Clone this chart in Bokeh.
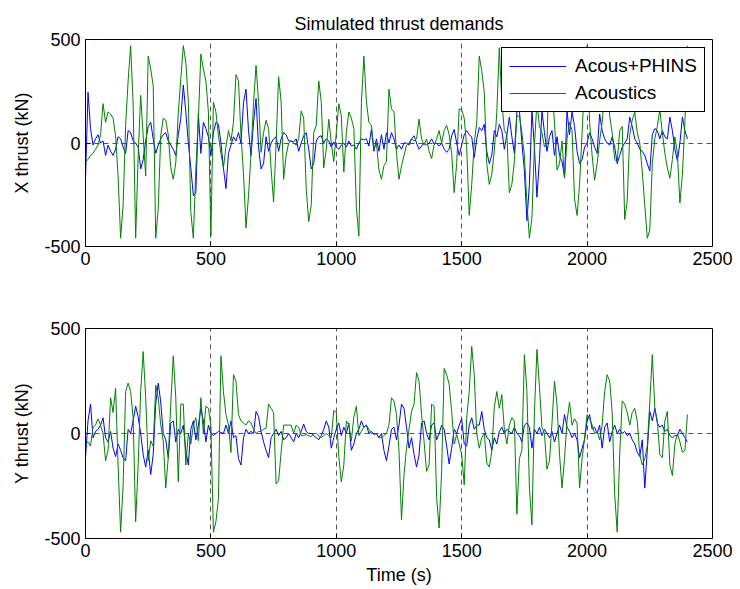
from bokeh.plotting import figure
from bokeh.models import Range1d, LinearAxis, FixedTicker, Legend, LegendItem, Grid
from bokeh.layouts import column
from bokeh.embed import file_html
from bokeh.resources import INLINE

FONT = "Liberation Sans"
STEP = 10  # sampling interval (s)

x_ticks = [0, 500, 1000, 1500, 2000, 2500]
y_ticks = [-500, 0, 500]
series_names = ["Acous+PHINS", "Acoustics"]

# X thrust, Acous+PHINS (kN), every 10 s
x_phins = [
    -175, 245, 70, -10, 20, 40, 0, 10, -60, -10,
    -40, -60, -30, 30, 20, -20, -50, 60, 50, 10,
    0, -20, -125, -80, 10, 80, 100, 20, -50, -10,
    20, 40, 50, 10, -10, -30, -60, 40, 120, 280,
    150, 0, -120, -255, -240, 140, -50, 100, 70, 30,
    -60, 50, 100, 90, 0, -120, -220, -50, -10, 30,
    10, 50, 0, 195, 260, 60, -60, 100, 215, -20,
    -125, -100, 30, -40, 0, 20, 30, -40, 20, 50,
    40, 10, 10, 5, 20, -40, 0, 35, 50, -30,
    -125, -100, 10, 30, 35, 0, 20, 10, -20, 5,
    -20, -30, -10, 0, -20, 10, -15, -10, -30, 0,
    20, 15, 20, -15, 65, -40, 20, -40, 40, -30,
    50, 0, 50, 20, -30, -10, -30, 0, 0, -10,
    20, 35, 0, -30, -15, 0, -10, 0, 20, -5,
    0, -15, 0, -30, -45, -30, 35, 65, 0, -60,
    -10, 40, 60, 40, 30, -70, 20, 75, 60, 90,
    -40, -100, -60, 60, 30, 90, 60, -30, 40, 125,
    30, -50, 150, 160, 0, -135, -375, -200, 155, -20,
    -262, -80, 155, 50, -40, 30, 60, -60, 30, -60,
    -90, -165, 155, 40, 150, 80, -40, -100, -80, -20,
    0, 50, 20, -20, -50, 140, 60, 20, 0, -10,
    30, -20, -100, -60, -20, 0, 20, 125, 80, 20,
    0, -30, -40, -60, -100, -135, 40, 70, 60, 20,
    60, 30, 20, 125, 60, -30, -85, 0, 125, 60,
    20,
]

# X thrust, Acoustics (kN)
x_acoustic = [
    -90, -80, -60, -50, -30, -10, 40, 190, 100, 150,
    140, 120, 35, -160, -460, -300, 85, 300, 470, 190,
    -460, -60, 230, 35, -160, 420, 358, 277, -460, -318,
    35, 120, 110, 40, -120, -175, -95, 145, 310, 470,
    390, 200, -335, -460, -125, 115, 430, 358, 300, 150,
    -450, 197, 150, 35, -50, -120, -20, 60, 10, 100,
    330, 300, 35, -150, -410, -255, -50, 195, 375, 200,
    -45, 50, 110, 70, -125, -285, 0, 320, 200, -175,
    -60, 0, 10, 0, -10, 20, 155, 120, -220, -380,
    -300, 50, 85, 300, 200, -120, -30, 115, 0, -90,
    50, 190, 130, -140, 50, 150, 120, 70, -310, -450,
    190, 420, 200, 100, 85, -30, 0, -130, -175, -110,
    -90, 260, 165, 150, -50, -175, -110, -60, -10, 0,
    20, 10, 20, 115, 20, -10, 20, -40, -75, -10,
    20, 60, 0, 60, 85, 40, -50, -240, -100, 165,
    160, 120, -20, -350, -200, 0, 100, 420, 350, 245,
    -100, -200, -150, -40, 150, 460, 200, 60, 40, -240,
    -200, -90, 130, 130, 50, -60, -290, -460, -360, -10,
    200, 80, 50, -20, 0, 460, 250, 100, -130, -100,
    10, -170, 20, 100, 60, -270, -350, -200, 50, 300,
    470, 100, -60, -180, -100, 10, 100, 250, 380, 130,
    50, -80, -90, 60, 80, -370, -280, 40, 110, 150,
    50, 0, -140, -300, -460, -420, -100, 20, 80, 160,
    50, -50, -120, -170, -80, 30, -50, -290, -150, 100,
    470,
]

# Y thrust, Acous+PHINS (kN)
y_phins = [
    -115, 60, 140, -20, 10, 20, 40, 75, -20, -40,
    10, -70, -110, -50, -80, -115, -130, 20, 0, 60,
    130, 80, 0, -100, -160, -80, -195, -100, 140, 240,
    150, 0, -30, -115, 50, 60, -40, 20, 0, 40,
    -80, -150, 20, 60, -30, 40, 120, 60, -40, 40,
    0, -10, 0, 10, 5, 0, 40, 0, 60, -20,
    -10, -120, -150, -20, 20, 0, 10, 0, 105, 80,
    10, -40, -80, -115, -20, 0, 20, -10, 10, -30,
    -20, 0, -20, -40, 0, -20, 10, 45, 10, 0,
    0, -10, -20, -30, -10, 20, 60, 30, -70, -20,
    20, 50, -10, 30, 0, 50, -80, -50, 0, 20,
    60, 30, 40, 0, 10, -5, 0, -20, 0, -80,
    -130, -60, 20, 30, -30, 40, 140, 120, 30, -70,
    -20, -100, -160, -100, 50, 60, 0, -30, 40, 50,
    -30, 0, 40, 20, -60, -145, -70, 20, 0, 40,
    70, -50, -60, 40, 75, 20, 40, 40, 105, 20,
    -20, -30, -80, -20, -50, 10, 30, 0, 20, 10,
    0, 30, 0, -10, -40, 40, 50, 30, -70, 20,
    0, 30, -10, 20, 0, -20, 10, -40, 0, 40,
    0, 90, 30, 10, -20, 0, -30, -115, -70, -30,
    60, 90, 20, 30, 0, 40, -70, 30, 50, -40,
    10, 40, 0, 20, 0, 10, -10, 0, -30, -50,
    -90, -110, -30, -260, -80, 105, 60, 120, 50, 30,
    40, 10, 20, -10, -20, -10, -10, 20, 0, -20,
    -40,
]

# Y thrust, Acoustics (kN)
y_acoustic = [
    -50, -40, -60, 30, 40, 70, 40, 0, -130, -80,
    170, 100, 215, -150, -470, -250, 200, 240, 200, 75,
    -420, -150, 200, 390, 170, -130, -35, -60, 230, 170,
    40, -35, -260, -115, 140, 370, 170, -230, 140, 140,
    -150, 0, -50, 40, 75, -35, 170, 0, 130, 120,
    40, -470, -420, -310, 370, 200, 90, 40, -90, 280,
    250, 90, 60, 50, 40, 60, 50, 20, 0, 10,
    10, 20, 25, 140, 120, 100, -240, -225, -90, 40,
    40, 40, 40, 0, 40, 30, -10, -10, -5, -10,
    -15, 0, 0, -10, -20, -10, 0, -10, -20, 110,
    100, -110, -230, -150, 60, 40, -35, 80, 130, -10,
    10, 30, 40, 20, 0, 0, 0, -20, -20, -10,
    0, 40, 170, 155, 90, -85, -410, -195, -70, 20,
    105, 140, 290, 250, 90, -40, -180, -150, 140, 130,
    -305, -450, -180, 310, 280, 235, 105, -50, -5, -50,
    -100, -245, 75, 200, 415, 280, 0, -70, -20, 0,
    -140, -160, -85, 125, 200, 120, 185, 20, -50, 40,
    75, 60, -385, -120, -80, 375, 200, -260, -435, 100,
    400, 220, 30, 0, -170, -130, 50, 250, 140, -100,
    -260, -120, 60, 150, 40, 70, 50, -260, -120, -20,
    90, 70, 40, 0, 10, -30, 40, 200, 280, 250,
    100, -290, -470, -100, 155, 140, 100, 40, 100, 120,
    60, -100, -150, -120, -60, 150, 375, 120, 60, -100,
    -115, 60, 105, -150, -200, -50, 0, -40, -90, -80,
    90,
]

BLUE = "#0000ff"
GREEN = "#008000"
TXT = "18px"


def times(vals):
    return [i * STEP for i in range(len(vals))]


def style_axis(ax, label_text=None):
    ax.axis_line_color = "black"
    ax.axis_line_width = 1
    ax.major_tick_in = 5
    ax.major_tick_out = 0
    ax.major_tick_line_color = "black"
    ax.minor_tick_line_color = None
    ax.major_label_text_font = FONT
    ax.major_label_text_font_size = TXT
    ax.major_label_text_color = "black"
    ax.major_label_standoff = 5
    if label_text:
        ax.axis_label = label_text
        ax.axis_label_text_font = FONT
        ax.axis_label_text_font_size = TXT
        ax.axis_label_text_font_style = "normal"
        ax.axis_label_text_color = "black"
        ax.axis_label_standoff = 9


def make_fig(height, b_top, b_bottom, ylabel, xlabel=None):
    p = figure(width=738, height=height, output_backend="svg", toolbar_location=None,
               x_range=Range1d(0, 2500), y_range=Range1d(-500, 500),
               x_axis_type=None, y_axis_type=None,
               min_border_left=85, min_border_right=26,
               min_border_top=b_top, min_border_bottom=b_bottom)
    p.outline_line_color = "black"
    p.outline_line_width = 1
    p.outline_line_alpha = 1
    p.background_fill_color = "white"
    p.border_fill_color = "white"

    xo = {v: str(v) for v in x_ticks}
    yo = {v: str(v) for v in y_ticks}

    bx = LinearAxis(ticker=FixedTicker(ticks=x_ticks), major_label_overrides=xo)
    style_axis(bx, xlabel)
    if xlabel:
        bx.axis_label_standoff = 5
    p.add_layout(bx, "below")

    ly = LinearAxis(ticker=FixedTicker(ticks=y_ticks), major_label_overrides=yo)
    style_axis(ly, ylabel)
    p.add_layout(ly, "left")

    gx = Grid(dimension=0, ticker=FixedTicker(ticks=x_ticks[1:-1]),
              grid_line_color="#555555", grid_line_dash="5 4", grid_line_width=1)
    gy = Grid(dimension=1, ticker=FixedTicker(ticks=y_ticks),
              grid_line_color="#555555", grid_line_dash="5 4", grid_line_width=1)
    p.add_layout(gx)
    p.add_layout(gy)
    return p


p1 = make_fig(290, 39, 44, "X thrust (kN)")
p1.title.text = "Simulated thrust demands"
p1.title.align = "center"
p1.title.text_font = FONT
p1.title.text_font_size = TXT
p1.title.text_font_style = "normal"
p1.title.text_color = "black"
p1.title.standoff = 12

r_b1 = p1.line(times(x_phins), x_phins, line_color=BLUE, line_width=1)
r_g1 = p1.line(times(x_acoustic), x_acoustic, line_color=GREEN, line_width=1)

legend = Legend(items=[LegendItem(label=series_names[0], renderers=[r_b1]),
                       LegendItem(label=series_names[1], renderers=[r_g1])],
                location=(416, 134), orientation="vertical")
legend.label_text_font = FONT
legend.label_text_font_size = "19px"
legend.label_text_color = "black"
legend.border_line_color = "black"
legend.border_line_width = 1
legend.border_line_alpha = 1
legend.background_fill_color = "white"
legend.background_fill_alpha = 1
legend.padding = 7
legend.spacing = 5
legend.glyph_width = 57
legend.label_standoff = 9
legend.label_width = 121
legend.margin = 0
p1.add_layout(legend, "center")

p2 = make_fig(298, 38, 50, "Y thrust (kN)", "Time (s)")
p2.line(times(y_phins), y_phins, line_color=BLUE, line_width=1)
p2.line(times(y_acoustic), y_acoustic, line_color=GREEN, line_width=1)

layout = column(p1, p2, spacing=0)
open("out.html", "w").write(file_html(layout, INLINE))
